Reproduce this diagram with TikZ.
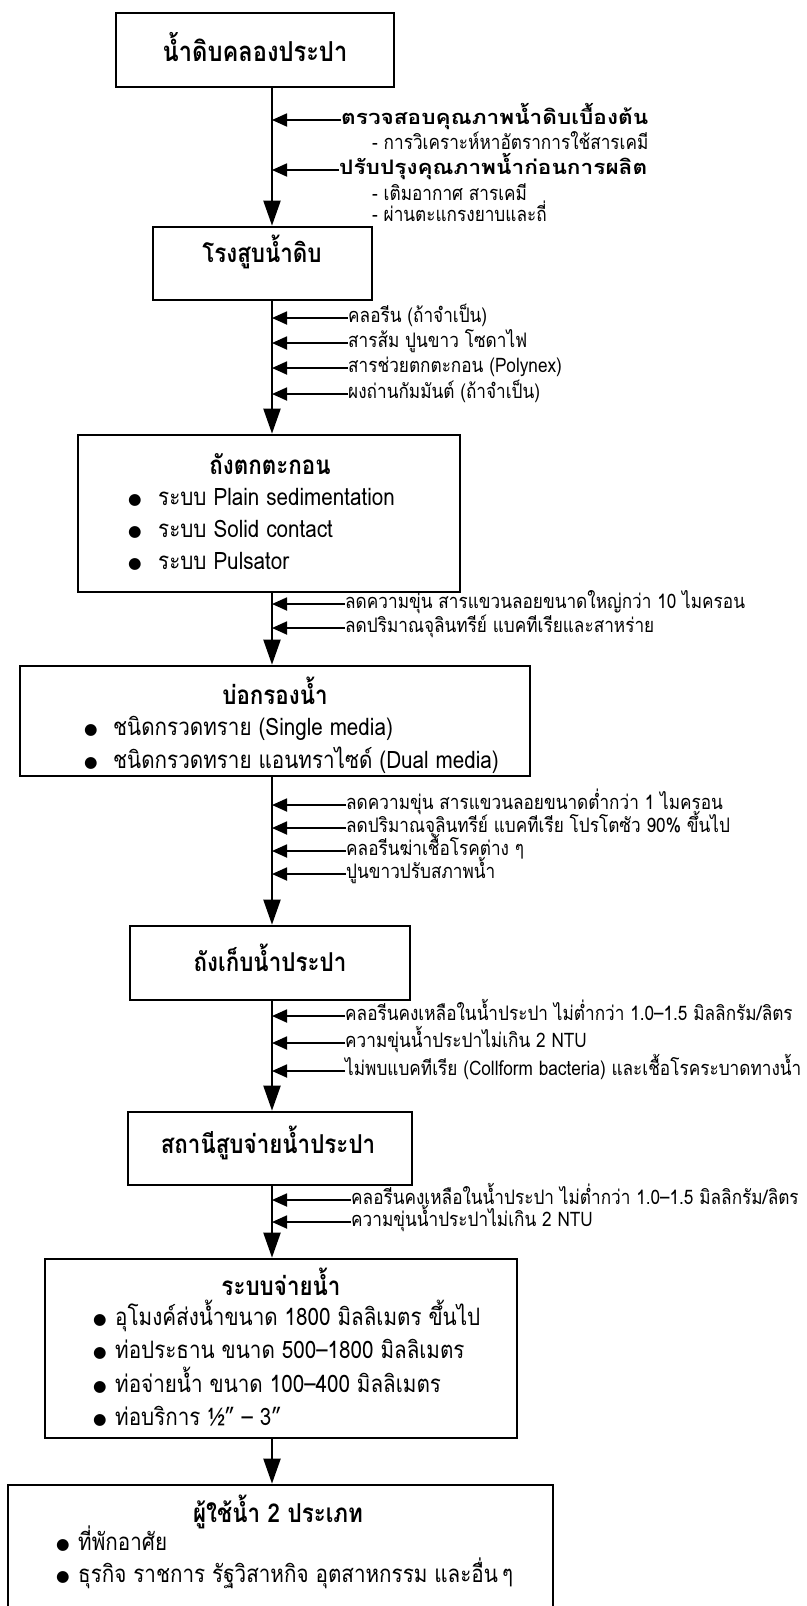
\documentclass[tikz,border=0pt]{standalone}
\usepackage{fontspec}
\usepackage{tikz}
\usetikzlibrary{arrows.meta}
\setmainfont[Script=Thai,FakeStretch=0.86]{Loma}
\newfontfamily\widefont[Script=Thai,FakeStretch=1.13]{Loma}
\newfontfamily\symfont{DejaVu Sans}

\tikzset{
	box/.style={draw=black, line width=2.7pt, rectangle, inner sep=0pt},
	ttl/.style={inner sep=0pt, font=\bfseries\fontsize{26}{30}\selectfont},
	lbl/.style={anchor=west, inner sep=0pt, text height=13pt, text depth=5pt, font=\fontsize{20}{23}\selectfont},
	blbl/.style={lbl, font=\widefont\bfseries\fontsize{20}{24}\selectfont},
	itm/.style={anchor=west, inner sep=0pt, text height=16pt, text depth=5pt, font=\fontsize{24}{27}\selectfont},
	dot/.style={inner sep=0pt, font=\symfont\fontsize{15.5}{16}\selectfont},
	flow/.style={draw=black, line width=2.1pt, -{Triangle[length=25pt,width=17pt]}},
	feed/.style={draw=black, line width=1.8pt, -{Triangle[length=15pt,width=13pt]}}
}

\begin{document}
\begin{tikzpicture}[x=1pt, y=-1pt]
	\useasboundingbox (0,0) rectangle (806,1606);
	\coordinate (sp) at (272,0);
	\node[box, minimum width=278pt, minimum height=74pt] (raw) at (255,50) {};
	\node[box, minimum width=219pt, minimum height=73pt] (pump) at (262.5,263.5) {};
	\node[box, minimum width=382pt, minimum height=157pt] (sed) at (269,513.5) {};
	\node[box, minimum width=510pt, minimum height=110pt] (filt) at (275,721) {};
	\node[box, minimum width=280pt, minimum height=74pt] (tank) at (270,963) {};
	\node[box, minimum width=284pt, minimum height=73pt] (stat) at (270,1148.5) {};
	\node[box, minimum width=472pt, minimum height=179pt] (dist) at (281,1348.5) {};
	\node[box, minimum width=545pt, minimum height=130pt] (user) at (280.5,1550) {};
	\node[ttl, font=\bfseries\fontsize{27.5}{31}\selectfont] (rawt) at (255,47) {น้ำดิบคลองประปา};
	\node[ttl] (pumpt) at (262,252) {โรงสูบน้ำดิบ};
	\node[ttl] (sedt) at (270,464) {ถังตกตะกอน};
	\node[ttl] (filtt) at (275,691) {บ่อกรองน้ำ};
	\node[ttl] (tankt) at (270,958) {ถังเก็บน้ำประปา};
	\node[ttl] (statt) at (268,1143) {สถานีสูบจ่ายน้ำประปา};
	\node[ttl] (distt) at (281,1282) {ระบบจ่ายน้ำ};
	\node[ttl] (usert) at (278,1512) {ผู้ใช้น้ำ 2 ประเภท};
	\node[dot] (sedd1) at (135,500) {●};
	\node[dot] (sedd2) at (135,532) {●};
	\node[dot] (sedd3) at (135,564) {●};
	\node[itm] (sedi1) at (158,500) {ระบบ Plain sedimentation};
	\node[itm] (sedi2) at (158,532) {ระบบ Solid contact};
	\node[itm] (sedi3) at (158,564) {ระบบ Pulsator};
	\node[dot] (filtd1) at (91,730) {●};
	\node[dot] (filtd2) at (91,763) {●};
	\node[itm] (filti1) at (113,730) {ชนิดกรวดทราย (Single media)};
	\node[itm] (filti2) at (113,763) {ชนิดกรวดทราย แอนทราไซด์ (Dual media)};
	\node[dot] (distd1) at (100,1320) {●};
	\node[dot] (distd2) at (100,1353) {●};
	\node[dot] (distd3) at (100,1387) {●};
	\node[dot] (distd4) at (100,1420) {●};
	\node[itm] (disti1) at (115,1320) {อุโมงค์ส่งน้ำขนาด 1800 มิลลิเมตร ขึ้นไป};
	\node[itm] (disti2) at (115,1353) {ท่อประธาน ขนาด 500–1800 มิลลิเมตร};
	\node[itm] (disti3) at (115,1387) {ท่อจ่ายน้ำ ขนาด 100–400 มิลลิเมตร};
	\node[itm] (disti4) at (115,1420) {ท่อบริการ ½" – 3"};
	\node[dot] (userd1) at (63,1545) {●};
	\node[dot] (userd2) at (63,1577) {●};
	\node[itm] (useri1) at (78,1545) {ที่พักอาศัย};
	\node[itm] (useri2) at (78,1577) {ธุรกิจ ราชการ รัฐวิสาหกิจ อุตสาหกรรม และอื่น\,ๆ};
	\node[blbl] (rawl1) at (341,120) {ตรวจสอบคุณภาพน้ำดิบเบื้องต้น};
	\node[lbl] (rawl1a) at (372,145) {- การวิเคราะห์หาอัตราการใช้สารเคมี};
	\node[blbl] (rawl2) at (339,170) {ปรับปรุงคุณภาพน้ำก่อนการผลิต};
	\node[lbl] (rawl2a) at (372,196) {- เติมอากาศ สารเคมี};
	\node[lbl] (rawl2b) at (372,217) {- ผ่านตะแกรงยาบและถี่};
	\node[lbl] (pumpl1) at (348,318) {คลอรีน (ถ้าจำเป็น)};
	\node[lbl] (pumpl2) at (348,343) {สารส้ม ปูนขาว โซดาไฟ};
	\node[lbl] (pumpl3) at (348,368) {สารช่วยตกตะกอน (Polynex)};
	\node[lbl] (pumpl4) at (348,394) {ผงถ่านกัมมันต์ (ถ้าจำเป็น)};
	\node[lbl] (sedl1) at (345,604) {ลดความขุ่น สารแขวนลอยขนาดใหญ่กว่า 10 ไมครอน};
	\node[lbl] (sedl2) at (345,628) {ลดปริมาณจุลินทรีย์ แบคทีเรียและสาหร่าย};
	\node[lbl] (filtl1) at (346,805) {ลดความขุ่น สารแขวนลอยขนาดต่ำกว่า 1 ไมครอน};
	\node[lbl] (filtl2) at (346,828) {ลดปริมาณจุลินทรีย์ แบคทีเรีย โปรโตซัว 90\% ขึ้นไป};
	\node[lbl] (filtl3) at (346,851) {คลอรีนฆ่าเชื้อโรคต่าง ๆ};
	\node[lbl] (filtl4) at (346,874) {ปูนขาวปรับสภาพน้ำ};
	\node[lbl] (tankl1) at (345,1016) {คลอรีนคงเหลือในน้ำประปา ไม่ต่ำกว่า 1.0–1.5 มิลลิกรัม/ลิตร};
	\node[lbl] (tankl2) at (345,1043) {ความขุ่นน้ำประปาไม่เกิน 2 NTU};
	\node[lbl] (tankl3) at (345,1071) {ไม่พบแบคทีเรีย (Collform bacteria) และเชื้อโรคระบาดทางน้ำ};
	\node[lbl] (statl1) at (351,1200) {คลอรีนคงเหลือในน้ำประปา ไม่ต่ำกว่า 1.0–1.5 มิลลิกรัม/ลิตร};
	\node[lbl] (statl2) at (351,1222) {ความขุ่นน้ำประปาไม่เกิน 2 NTU};
	\draw[flow] (raw.south -| sp) -- (pump.north -| sp);
	\draw[flow] (pump.south -| sp) -- (sed.north -| sp);
	\draw[flow] (sed.south -| sp) -- (filt.north -| sp);
	\draw[flow] (filt.south -| sp) -- (tank.north -| sp);
	\draw[flow] (tank.south -| sp) -- (stat.north -| sp);
	\draw[flow] (stat.south -| sp) -- (dist.north -| sp);
	\draw[flow] (dist.south -| sp) -- (user.north -| sp);
	\foreach \l in {rawl1,rawl2,pumpl1,pumpl2,pumpl3,pumpl4,sedl1,sedl2,filtl1,filtl2,filtl3,filtl4,tankl1,tankl2,tankl3,statl1,statl2}
		\draw[feed] (\l.west) -- (\l.west -| sp);
\end{tikzpicture}
\end{document}
